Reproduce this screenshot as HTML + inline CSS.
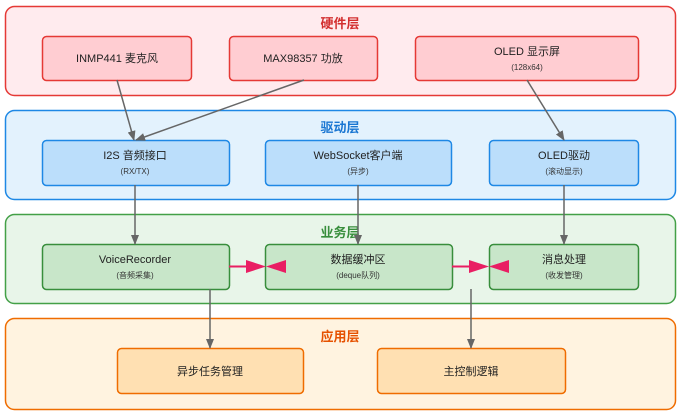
<!DOCTYPE html><html><head><meta charset="utf-8"><style>
body{margin:0;width:680px;height:415px;background:#fff;font-family:"Liberation Sans","Noto Sans CJK SC",sans-serif;}
</style></head><body>
<svg width="680" height="415" xmlns="http://www.w3.org/2000/svg" font-family="Liberation Sans, Noto Sans CJK SC, sans-serif">
<defs>
<marker id="g" markerWidth="10" markerHeight="8" refX="9" refY="4" orient="auto" markerUnits="userSpaceOnUse"><path d="M0,0 L10,4 L0,8 z" fill="#666"/></marker>
</defs>
<rect x="5.5" y="6.5" width="670" height="89" rx="9" fill="#ffebee" stroke="#e53935" stroke-width="1.5"/>
<rect x="5.5" y="110.5" width="670" height="89" rx="9" fill="#e3f2fd" stroke="#1e88e5" stroke-width="1.5"/>
<rect x="5.5" y="214.5" width="670" height="89" rx="9" fill="#e8f5e9" stroke="#43a047" stroke-width="1.5"/>
<rect x="5.5" y="318.5" width="670" height="91" rx="9" fill="#fff3e0" stroke="#ef6c00" stroke-width="1.5"/>
<g font-size="13" font-weight="bold" text-anchor="middle">
<text x="340" y="28" fill="#d32f2f">硬件层</text>
<text x="340" y="132" fill="#1976d2">驱动层</text>
<text x="340" y="237" fill="#388e3c">业务层</text>
<text x="340" y="341" fill="#e65100">应用层</text>
</g>
<g stroke-width="1.5">
<rect x="42.5" y="36.5" width="149" height="44" rx="4" fill="#ffcdd2" stroke="#e53935"/>
<rect x="229.5" y="36.5" width="148" height="44" rx="4" fill="#ffcdd2" stroke="#e53935"/>
<rect x="415.5" y="36.5" width="223" height="44" rx="4" fill="#ffcdd2" stroke="#e53935"/>
<rect x="42.5" y="140.5" width="187" height="45" rx="4" fill="#bbdefb" stroke="#1e88e5"/>
<rect x="265.5" y="140.5" width="186" height="45" rx="4" fill="#bbdefb" stroke="#1e88e5"/>
<rect x="489.5" y="140.5" width="149" height="45" rx="4" fill="#bbdefb" stroke="#1e88e5"/>
<rect x="42.5" y="244.5" width="187" height="45" rx="4" fill="#c8e6c9" stroke="#388e3c"/>
<rect x="265.5" y="244.5" width="187" height="45" rx="4" fill="#c8e6c9" stroke="#388e3c"/>
<rect x="489.5" y="244.5" width="149" height="45" rx="4" fill="#c8e6c9" stroke="#388e3c"/>
<rect x="117.5" y="348.5" width="186" height="45" rx="4" fill="#ffe0b2" stroke="#ef6c00"/>
<rect x="377.5" y="348.5" width="188" height="45" rx="4" fill="#ffe0b2" stroke="#ef6c00"/>
</g>
<g font-size="11" fill="#222" text-anchor="middle">
<text x="117" y="62">INMP441 麦克风</text>
<text x="303" y="62">MAX98357 功放</text>
<text x="527" y="55">OLED 显示屏</text>
<text x="135" y="159">I2S 音频接口</text>
<text x="358" y="159">WebSocket客户端</text>
<text x="564" y="159">OLED驱动</text>
<text x="135" y="263">VoiceRecorder</text>
<text x="358" y="263">数据缓冲区</text>
<text x="564" y="263">消息处理</text>
<text x="210" y="375">异步任务管理</text>
<text x="471" y="375">主控制逻辑</text>
</g>
<g font-size="8" fill="#333" text-anchor="middle">
<text x="527" y="70">(128x64)</text>
<text x="135" y="174">(RX/TX)</text>
<text x="358" y="174">(异步)</text>
<text x="564" y="174">(滚动显示)</text>
<text x="135" y="278">(音频采集)</text>
<text x="358" y="278">(deque队列)</text>
<text x="564" y="278">(收发管理)</text>
</g>
<g stroke="#666" stroke-width="1.5" fill="none" marker-end="url(#g)">
<line x1="117" y1="80" x2="134" y2="140"/>
<line x1="304" y1="80" x2="136" y2="140"/>
<line x1="527" y1="80" x2="564" y2="140"/>
<line x1="135" y1="185" x2="135" y2="244"/>
<line x1="358" y1="185" x2="358" y2="244"/>
<line x1="564" y1="185" x2="564" y2="244"/>
<line x1="210" y1="289" x2="210" y2="348"/>
<line x1="471" y1="289" x2="471" y2="348"/>
</g>
<g fill="#e91e63">
<line x1="229" y1="266.5" x2="250" y2="266.5" stroke="#e91e63" stroke-width="2"/>
<path d="M246,260 L266,266.5 L246,273 z"/><path d="M286,260 L266,266.5 L286,273 z"/>
<line x1="452" y1="266.5" x2="472" y2="266.5" stroke="#e91e63" stroke-width="2"/>
<path d="M469,260 L489,266.5 L469,273 z"/><path d="M509,260 L489,266.5 L509,273 z"/>
</g>
</svg>
</body></html>
